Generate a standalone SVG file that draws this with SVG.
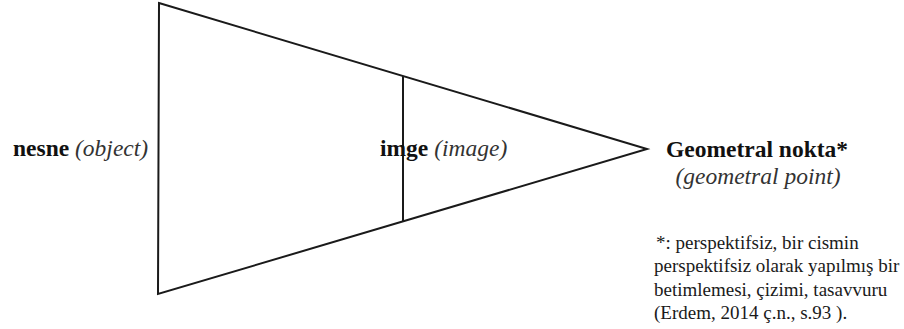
<svg xmlns="http://www.w3.org/2000/svg" width="904" height="329" viewBox="0 0 904 329">
<style>
.ln{fill:none;stroke:#1a1a1a;stroke-width:2;stroke-linejoin:miter}
text{font-family:'Liberation Serif','Times New Roman',serif;fill:#111}
.b{font-weight:bold;font-size:23.5px}
.i{font-style:italic;font-weight:normal;font-size:23.5px;fill:#333}
.n{font-size:19px;fill:#1a1a1a}
</style>
<rect width="904" height="329" fill="#fff"/>
<g id="connectors">
<polygon class="ln" points="159,3 647,149 158,294"/>
<line class="ln" x1="403" y1="76" x2="403" y2="221"/>
</g>
<g id="nesne"><text class="b" x="13" y="156">nesne <tspan class="i">(object)</tspan></text></g>
<g id="imge"><text class="b" x="380" y="156">imge <tspan class="i">(image)</tspan></text></g>
<g id="geometral">
<text class="b" x="757" y="157" text-anchor="middle">Geometral nokta*</text>
<text class="i" x="758" y="184" text-anchor="middle">(geometral point)</text>
</g>
<g id="footnote">
<text class="n" x="656" y="249">*: perspektifsiz, bir cismin</text>
<text class="n" x="654" y="272">perspektifsiz olarak yapılmış bir</text>
<text class="n" x="654" y="296">betimlemesi, çizimi, tasavvuru</text>
<text class="n" x="654" y="319">(Erdem, 2014 ç.n., s.93 ).</text>
</g>
</svg>
